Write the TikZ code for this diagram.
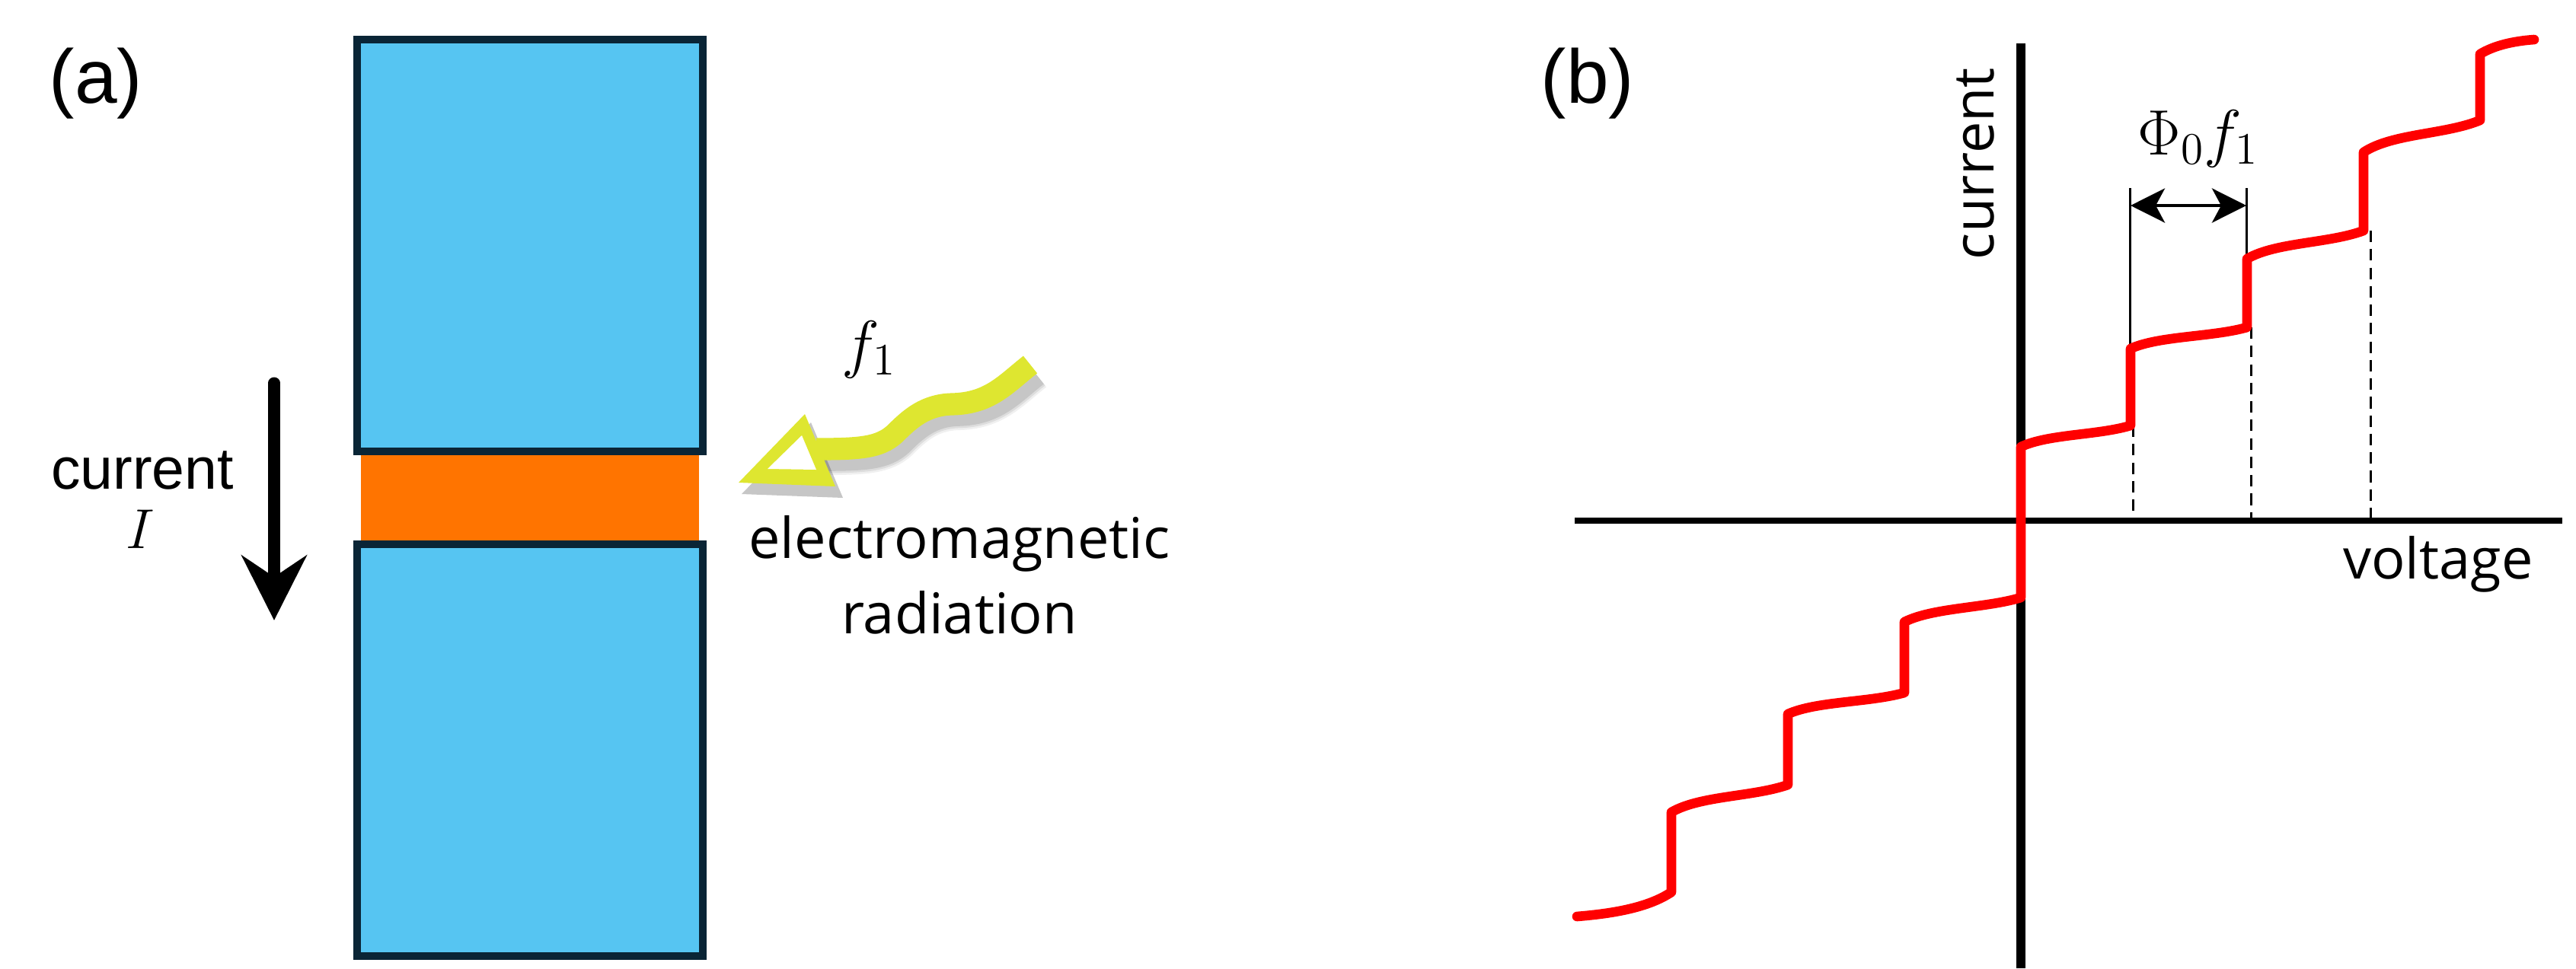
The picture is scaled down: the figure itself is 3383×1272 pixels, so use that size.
\RequirePackage{fix-cm}
\documentclass[tikz,border=0pt]{standalone}
\usepackage[no-math]{fontspec}
\setmainfont{Liberation Sans}
\newfontfamily\aptos{Open Sans}
\usetikzlibrary{arrows.meta}
\definecolor{boxblue}{RGB}{86,197,242}
\definecolor{boxedge}{RGB}{10,37,54}
\definecolor{junction}{RGB}{255,116,0}
\definecolor{wavey}{RGB}{222,230,48}
\definecolor{stepred}{RGB}{255,0,0}
\begin{document}
\begin{tikzpicture}[x=0.01cm,y=-0.01cm,
  lbl/.style={inner sep=0pt, anchor=base},
  panel/.style={lbl, font=\fontsize{28.45pt}{34pt}\selectfont},
  aptostext/.style={lbl, font=\aptos\fontsize{21pt}{25pt}\selectfont},
  mathtext/.style={lbl, font=\fontsize{24pt}{29pt}\selectfont},
  sbox/.style={rectangle, draw=boxedge, fill=boxblue, line width=2.85pt, minimum width=4.54cm, minimum height=5.41cm, inner sep=0pt},
  axis/.style={black, line cap=butt},
  iv/.style={stepred, line width=3.6pt, line join=round, line cap=round},
  guide/.style={black, line width=0.85pt},
  dguide/.style={guide, dash pattern=on 4.3pt off 2.6pt},
  shadowline/.style={black, line cap=butt}
]
\useasboundingbox (0,0) rectangle (3383,1272);

% ---------------- panel (a) ----------------
\node[panel] (labela) at (126,135) {(a)};

\node[rectangle, fill=junction, minimum width=4.44cm, minimum height=1.22cm, inner sep=0pt] (barrier) at (696,654) {};
\node[sbox] (topsc) at (696,322.5) {};
\node[sbox] (botsc) at (696,985.5) {};

\coordinate (ctop) at (360,503);
\coordinate (cbot) at (360,815);
\draw[line width=4.27pt, line cap=round, -{Stealth[length=24.2pt,width=24.2pt,inset=8pt]}] (ctop) -- (cbot);
\node[lbl, font=\fontsize{21.9pt}{26pt}\selectfont] (curtext) at (187,642) {current};
\node[lbl, font=\fontsize{21pt}{25pt}\selectfont] (curI) at (184,720) {$I$};

\node[mathtext] (fone) at (1141,480) {$f_1$};

% shadow of the wave arrow
\foreach \w/\o in {12pt/0.06, 10.5pt/0.08, 9pt/0.10}{
\begin{scope}[shift={(8,13)}, opacity=\o]
  \draw[shadowline, line width=\w] (1353,479) .. controls (1320,505) and (1300,530) .. (1250,531)
     .. controls (1215,532) and (1195,550) .. (1175,570)
     .. controls (1155,588) and (1130,590) .. (1072,590);
  \fill[black] (966,636) -- (1057,542) -- (1099,641) -- cycle;
\end{scope}
}
% wave arrow
\coordinate (wtail) at (1353,479);
\coordinate (wbase) at (1072,590);
\draw[wavey, line width=8.3pt, line cap=butt] (wtail) .. controls (1320,505) and (1300,530) .. (1250,531)
     .. controls (1215,532) and (1195,550) .. (1175,570)
     .. controls (1155,588) and (1130,590) .. (wbase);
\coordinate (htip) at (970,634);
\coordinate (htop) at (1057,544);
\coordinate (hbot) at (1097,639);
\fill[wavey] (htip) -- (htop) -- (hbot) -- cycle;
\fill[white] (1008,616) -- (1053,572) -- (1072,617) -- cycle;

\node[aptostext] (em1) at (1260,733) {electromagnetic};
\node[aptostext] (em2) at (1260,832) {radiation};

% ---------------- panel (b) ----------------
\node[panel] (labelb) at (2085,135) {(b)};

\coordinate (vtop) at (2654,57);
\coordinate (vbot) at (2654,1272);
\coordinate (hleft) at (2068,684);
\coordinate (hright) at (3365,684);
\draw[axis, line width=2.28pt] (hleft) -- (hright);
\draw[axis, line width=3.41pt] (vtop) -- (vbot);

\node[aptostext, rotate=90] (ylab) at (2618,215) {current};
\node[aptostext] (xlab) at (3202,760) {voltage};

% guides
\coordinate (g1t) at (2797,247); \coordinate (g1b) at (2797,458);
\coordinate (g2t) at (2950,247); \coordinate (g2b) at (2950,340);
\draw[guide] (g1t) -- (g1b);
\draw[guide] (g2t) -- (g2b);
\coordinate (d1t) at (2801,559); \coordinate (d1b) at (2801,684);
\coordinate (d2t) at (2956,430); \coordinate (d2b) at (2956,684);
\coordinate (d3t) at (3113,303); \coordinate (d3b) at (3113,684);
\draw[dguide] (d1t) -- (d1b);
\draw[dguide] (d2t) -- (d2b);
\draw[dguide] (d3t) -- (d3b);

\coordinate (da1) at (2798,270);
\coordinate (da2) at (2950,270);
\draw[line width=1.28pt, {Stealth[length=12.8pt,width=12.8pt,inset=3.4pt]}-{Stealth[length=12.8pt,width=12.8pt,inset=3.4pt]}] (da1) -- (da2);
\node[mathtext] (phif) at (2887,203) {$\Phi_0 f_1$};

% Shapiro steps
\draw[iv] (2071,1204) .. controls (2120,1200) and (2165,1192) .. (2195,1172)
  -- (2195,1067) .. controls (2233,1045) and (2302,1047) .. (2348,1031)
  -- (2348,938) .. controls (2386,921) and (2455,923) .. (2501,910)
  -- (2501,817) .. controls (2539,798) and (2608,799) .. (2654,785)
  -- (2654,587) .. controls (2690,570) and (2755,572) .. (2798,559)
  -- (2798,458) .. controls (2836,441) and (2905,443) .. (2951,430)
  -- (2951,340) .. controls (2989,318) and (3058,320) .. (3104,303)
  -- (3104,200) .. controls (3142,175) and (3211,177) .. (3257,158)
  -- (3257,71) .. controls (3275,60) and (3300,54) .. (3328,52);
\end{tikzpicture}
\end{document}
